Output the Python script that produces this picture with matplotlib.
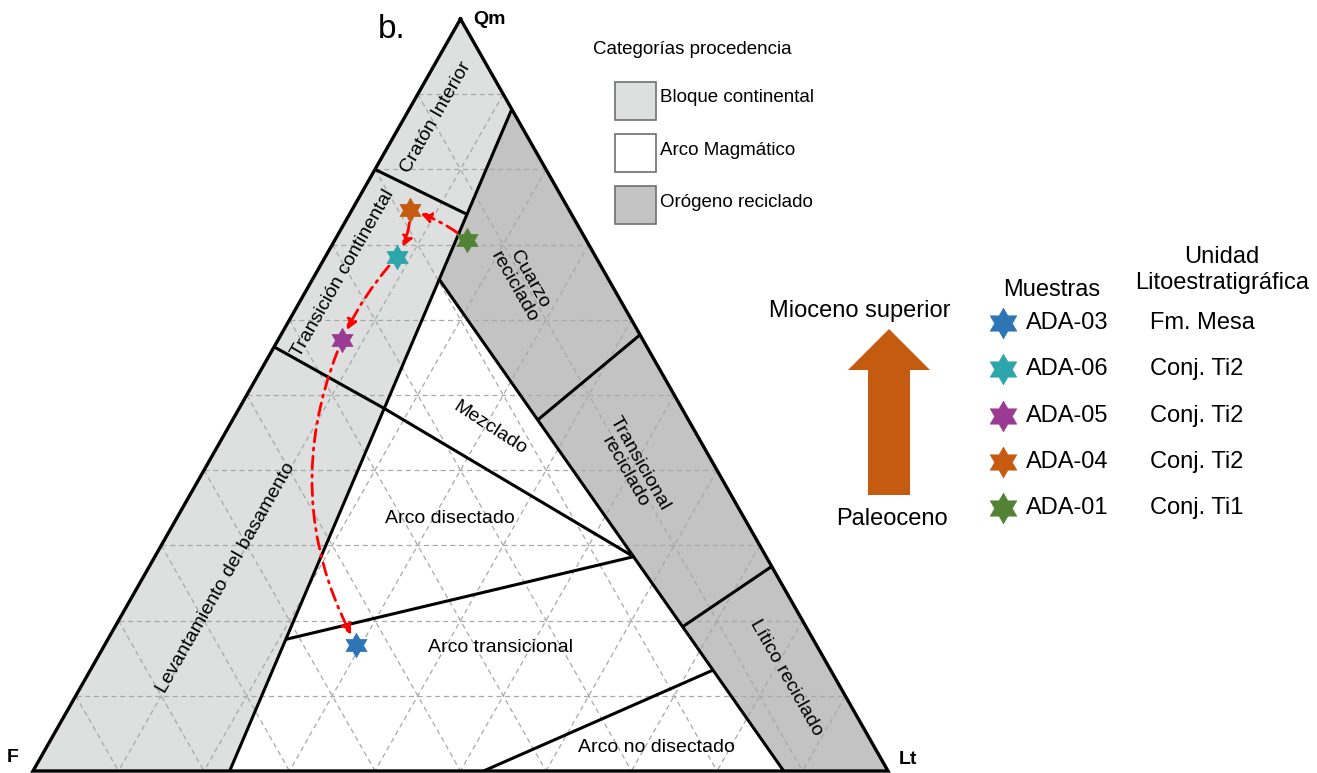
import numpy as np
import matplotlib.pyplot as plt
from matplotlib.path import Path
from matplotlib.patches import Polygon, Rectangle

plt.rcParams['font.family'] = ['Liberation Sans', 'DejaVu Sans']

# Campos de procedencia (Dickinson), vertices en % (Qm, F, Lt)
craton_interior = [(100, 0, 0), (88, 0, 12), (74, 12.2, 13.8), (80, 20, 0)]
transicion_cont = [(80, 20, 0), (74, 12.2, 13.8), (48.2, 34.8, 17.0), (56.4, 43.6, 0)]
levantamiento = [(56.4, 43.6, 0), (48.2, 34.8, 17.0), (0, 77, 23), (0, 100, 0)]
orogeno = [(88, 0, 12), (0, 0, 100), (0, 12.2, 87.8), (65.4, 19.8, 14.8)]
arco = [(65.4, 19.8, 14.8), (0, 12.2, 87.8), (0, 77, 23)]

# lineas limite entre campos
limites = [
    [(88, 0, 12), (0, 77, 23)],
    [(65.4, 19.8, 14.8), (0, 12.2, 87.8)],
    [(80, 20, 0), (74, 12.2, 13.8)],
    [(56.4, 43.6, 0), (48.2, 34.8, 17.0), (28.5, 15.5, 56.0)],
    [(17.5, 61.7, 20.8), (28.5, 15.5, 56.0)],
    [(0, 47.3, 52.7), (13.4, 13.8, 72.8)],
    [(46.7, 17.6, 35.7), (58, 0, 42)],
    [(19.2, 14.4, 66.4), (27.2, 0, 72.8)],
]

# muestras
muestras = ['ADA-03', 'ADA-06', 'ADA-05', 'ADA-04', 'ADA-01']
unidades = ['Fm. Mesa', 'Conj. Ti2', 'Conj. Ti2', 'Conj. Ti2', 'Conj. Ti1']
colores = ['#2E75B6', '#2CA5AB', '#9A3A92', '#C55A11', '#548235']
qm = [16.8, 68.4, 57.3, 74.6, 70.5]
f = [53.8, 23.2, 35.2, 18.6, 13.9]
lt = [29.4, 8.4, 7.5, 6.8, 15.5]
# orden de la trayectoria (ADA-01 -> ADA-04 -> ADA-06 -> ADA-05 -> ADA-03)
trayectoria = [4, 3, 1, 2, 0]
curvatura = [0.1, -0.15, 0.08, 0.24]

categorias = ['Bloque continental', 'Arco Magmático', 'Orógeno reciclado']
col_claro = '#DEDFDF'
col_oscuro = '#C3C3C3'
col_cat = [col_claro, 'white', col_oscuro]

H = np.sqrt(3) / 2


def tern(q, ff, l):
    s = q + ff + l
    return (l + q / 2) / s, q / s * H


W, Hpx = 1317, 773
fig = plt.figure(figsize=(W / 100, Hpx / 100), dpi=100)
ax = fig.add_axes([33 / W, 2 / Hpx, 855 / W, 752 / Hpx])
ax.set_xlim(0, 1)
ax.set_ylim(0, H)
ax.axis('off')

# rellenos
for poly, c in [(craton_interior, col_claro), (transicion_cont, col_claro),
                (levantamiento, col_claro), (orogeno, col_oscuro), (arco, 'white')]:
    ax.add_patch(Polygon([tern(*p) for p in poly], closed=True, fc=c, ec='none', zorder=1))

# reticula cada 10 %
for v in range(10, 100, 10):
    for a, b in [((v, 100 - v, 0), (v, 0, 100 - v)),
                 ((100 - v, v, 0), (0, v, 100 - v)),
                 ((100 - v, 0, v), (0, 100 - v, v))]:
        xa, ya = tern(*a)
        xb, yb = tern(*b)
        ax.plot([xa, xb], [ya, yb], color='#A8A8A8', lw=0.9, ls=(0, (4, 3)), zorder=2)

# limites
for lim in limites:
    pts = np.array([tern(*p) for p in lim])
    ax.plot(pts[:, 0], pts[:, 1], color='black', lw=2.2, zorder=3, solid_capstyle='butt')
tri = np.array([tern(100, 0, 0), tern(0, 100, 0), tern(0, 0, 100), tern(100, 0, 0)])
ax.plot(tri[:, 0], tri[:, 1], color='black', lw=2.4, zorder=3, clip_on=False,
        solid_joinstyle='miter')

# etiquetas de campos
fs = 14
ax.text(*tern(86.9, 9.4, 3.7), 'Cratón Interior', rotation=60.3, ha='center', va='center', fontsize=fs, zorder=6)
ax.text(*tern(66.2, 30.6, 3.2), 'Transición continental', rotation=60.3, ha='center', va='center', fontsize=fs, zorder=6)
ax.text(*tern(25.7, 64.6, 9.7), 'Levantamiento del basamento', rotation=60.3, ha='center', va='center', fontsize=fs, zorder=6)
ax.text(*tern(64.9, 10.4, 24.7), 'Cuarzo\nreciclado', rotation=-60.4, ha='center', va='center', fontsize=fs, zorder=6, linespacing=1.0)
ax.text(*tern(40.3, 9.8, 49.9), 'Transicional\nreciclado', rotation=-60.4, ha='center', va='center', fontsize=fs, zorder=6, linespacing=1.0)
ax.text(*tern(12.4, 5.7, 81.9), 'Lítico reciclado', rotation=-60.4, ha='center', va='center', fontsize=fs, zorder=6)
ax.text(*tern(45.6, 23.8, 30.6), 'Mezclado', rotation=-33, ha='center', va='center', fontsize=fs, zorder=6)
ax.text(*tern(33.6, 34.4, 32), 'Arco disectado', ha='center', va='center', fontsize=fs, zorder=6)
ax.text(*tern(16.4, 37.1, 46.5), 'Arco transicional', ha='center', va='center', fontsize=fs, zorder=6)
ax.text(*tern(3.1, 25.5, 71.4), 'Arco no disectado', ha='center', va='center', fontsize=fs, zorder=6)

# trayectoria
xs, ys = zip(*[tern(a, b, c) for a, b, c in zip(qm, f, lt)])
for k in range(len(trayectoria) - 1):
    i, j = trayectoria[k], trayectoria[k + 1]
    ax.annotate('', xy=(xs[j], ys[j]), xytext=(xs[i], ys[i]), zorder=4,
                arrowprops=dict(arrowstyle='-|>', color='red', lw=2.0,
                                ls=(0, (4.5, 2.2, 0.8, 2.2)), mutation_scale=15,
                                shrinkA=9, shrinkB=8,
                                connectionstyle='arc3,rad=%s' % curvatura[k]))

estrella = Path.unit_regular_star(6, 0.577)
for i in range(len(muestras)):
    ax.plot(xs[i], ys[i], marker=estrella, ms=17.5, color=colores[i], mec=colores[i],
            mew=0.5, ls='none', zorder=5)

# capa de anotaciones en pixeles
ov = fig.add_axes([0, 0, 1, 1])
ov.set_xlim(0, W)
ov.set_ylim(Hpx, 0)
ov.axis('off')

ov.text(392, 30, 'b.', fontsize=24, ha='center', va='center')
ov.text(473, 20, 'Qm', fontsize=14, fontweight='bold', ha='left', va='center')
ov.text(7, 758, 'F', fontsize=14, fontweight='bold', ha='left', va='center')
ov.text(899, 760, 'Lt', fontsize=14, fontweight='bold', ha='left', va='center')

# leyenda de categorias
ov.text(593, 49, 'Categorías procedencia', fontsize=13.5, ha='left', va='center')
for k, (cat, c) in enumerate(zip(categorias, col_cat)):
    y0 = 82 + k * 52.2
    ov.add_patch(Rectangle((615, y0), 41, 38, fc=c, ec='#6F6F6F', lw=1.2))
    ov.text(660, y0 + 16, cat, fontsize=13.5, ha='left', va='center')

# flecha temporal
ov.add_patch(Polygon([(868, 495), (868, 370), (848, 370), (889, 329), (930, 370), (910, 370), (910, 495)],
                     closed=True, fc='#C55A11', ec='none'))
ov.text(860, 311, 'Mioceno superior', fontsize=17, ha='center', va='center')
ov.text(892, 519, 'Paleoceno', fontsize=17, ha='center', va='center')

# tabla de muestras
ov.text(1052, 290, 'Muestras', fontsize=17, ha='center', va='center')
ov.text(1222, 270, 'Unidad\nLitoestratigráfica', fontsize=17, ha='center', va='center', linespacing=1.25)
for k in range(len(muestras)):
    yk = 323 + k * 46.3
    ov.plot(1003, yk, marker=estrella, ms=22, color=colores[k], mec=colores[k], mew=0.5, ls='none')
    ov.text(1026, yk, muestras[k], fontsize=17, ha='left', va='center')
    ov.text(1150, yk, unidades[k], fontsize=17, ha='left', va='center')

fig.savefig('out.png', dpi=100)
